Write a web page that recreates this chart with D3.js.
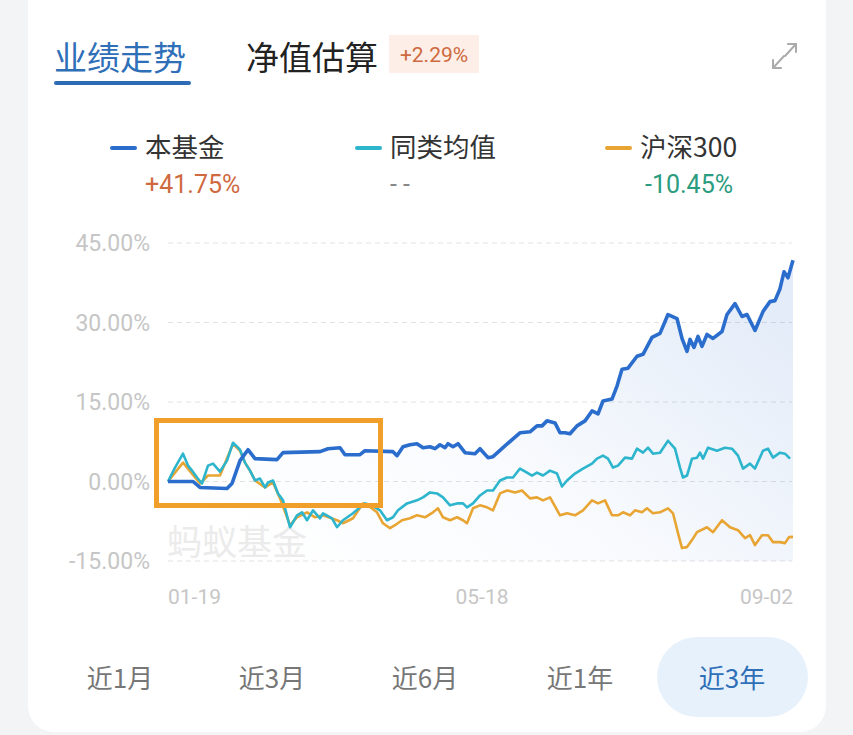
<!DOCTYPE html>
<html><head><meta charset="utf-8">
<script src="https://cdn.jsdelivr.net/npm/d3@7"></script>
<style>
html,body{margin:0;padding:0;background:#f3f4f6;}
svg{display:block;font-family:"Noto Sans CJK SC","Noto Sans",sans-serif;}
</style></head>
<body><svg id="c" width="853" height="735"></svg>
<script>
// ---- data ----
const xTickLabels = ["01-19", "05-18", "09-02"];
const xTickIdx = [0, 314, 625];
const yTicks = [-15, 0, 15, 30, 45];
const legendNames = ["本基金", "同类均值", "沪深300"];
const legendValues = ["+41.75%", "--", "-10.45%"];
const periodLabels = ["近1月", "近3月", "近6月", "近1年", "近3年"];
const estimateLabel = "+2.29%";
// [trading-day index, return %]
const fundSeries = [[0,0],[25,0],[32,-1.13],[59,-1.31],[64,-0.38],[72,3.94],[80,6.0],[87,4.31],[109,4.13],[115,5.44],[152,5.63],[160,6.19],[172,6.38],[177,5.06],[192,5.06],[197,5.81],[225,5.63],[229,4.88],[235,6.56],[242,6.94],[249,7.13],[255,6.38],[262,6.56],[267,6.19],[272,6.94],[277,6.38],[280,7.13],[285,6.56],[290,7.13],[297,5.44],[307,5.25],[312,6.19],[320,4.5],[325,4.69],[335,6.38],[345,8.06],[352,9.19],[362,9.38],[369,10.5],[374,10.5],[379,11.44],[387,11.06],[392,9.19],[397,9.19],[402,9.0],[409,10.5],[417,11.44],[424,13.31],[430,12.75],[435,15.19],[444,15.56],[449,18.0],[454,21.19],[460,21.38],[469,23.63],[475,24.0],[484,27.19],[492,27.94],[500,31.5],[509,30.75],[514,27.0],[519,24.56],[522,26.81],[526,25.31],[530,27.38],[534,25.5],[539,27.75],[545,27.0],[554,28.31],[559,31.5],[567,33.56],[574,31.13],[579,31.5],[587,28.5],[595,32.06],[602,33.94],[607,34.13],[612,36.38],[616,39.56],[620,38.44],[625,41.75]];
const peerSeries = [[0,0],[7,2.63],[15,5.25],[20,3.0],[24,2.06],[29,0.75],[34,-0.38],[40,3.0],[45,3.38],[52,1.88],[59,3.94],[65,7.31],[72,6.0],[77,3.56],[82,2.06],[87,0.19],[92,0.56],[97,-1.13],[100,-0.19],[105,0.19],[110,-2.25],[115,-3.56],[122,-8.63],[129,-6.38],[134,-5.81],[139,-7.31],[145,-5.44],[152,-6.94],[155,-6.0],[164,-6.94],[169,-8.63],[175,-7.31],[185,-6.0],[192,-4.88],[197,-4.13],[204,-4.5],[212,-5.44],[219,-7.31],[225,-6.75],[230,-5.44],[239,-4.13],[249,-3.56],[255,-3.0],[262,-2.06],[269,-2.25],[275,-3.0],[282,-4.5],[289,-4.13],[295,-4.13],[299,-4.88],[305,-4.13],[312,-2.63],[319,-1.69],[325,-1.69],[332,0.19],[339,0.75],[345,0.75],[352,2.44],[359,1.69],[364,1.13],[369,1.69],[375,1.13],[382,2.06],[389,1.5],[394,-0.94],[399,0.19],[407,1.5],[415,2.44],[424,3.38],[429,4.31],[435,4.88],[440,4.31],[445,2.63],[450,3.0],[457,4.5],[464,4.31],[469,6.19],[475,5.44],[480,6.38],[485,5.25],[492,5.44],[500,7.69],[507,6.19],[512,2.63],[515,0.75],[519,1.13],[524,4.31],[529,4.5],[532,5.44],[535,4.31],[540,6.38],[549,5.81],[557,6.38],[564,6.19],[570,4.88],[575,2.44],[582,3.38],[587,2.44],[595,5.81],[600,6.19],[605,4.5],[612,5.44],[617,5.25],[622,4.31]];
const indexSeries = [[0,0],[15,3.56],[24,1.5],[32,-0.38],[40,1.13],[52,1.13],[65,7.13],[72,5.81],[77,3.56],[82,2.06],[87,0.19],[97,-1.13],[105,-0.19],[112,-3.19],[122,-8.25],[129,-6.75],[139,-5.81],[147,-6.75],[155,-6.38],[169,-7.31],[175,-7.88],[185,-6.94],[195,-4.13],[200,-4.5],[209,-5.81],[215,-7.88],[222,-8.81],[227,-8.25],[234,-7.31],[242,-6.94],[249,-6.38],[257,-6.75],[265,-5.81],[270,-5.06],[275,-6.75],[282,-7.31],[289,-6.75],[295,-7.31],[299,-7.88],[305,-5.06],[312,-4.5],[319,-4.88],[325,-5.44],[332,-2.25],[339,-1.69],[347,-2.06],[354,-1.69],[362,-3.19],[369,-3.0],[375,-3.56],[382,-3.0],[392,-6.38],[399,-6.0],[407,-6.38],[415,-5.44],[424,-3.56],[430,-4.13],[437,-3.56],[444,-6.38],[450,-6.38],[455,-5.81],[462,-6.38],[467,-5.44],[474,-5.81],[479,-5.06],[485,-6.0],[492,-5.81],[500,-5.06],[505,-6.0],[510,-9.75],[514,-12.56],[519,-12.38],[524,-11.06],[529,-9.56],[539,-8.63],[545,-9.56],[554,-7.31],[562,-8.63],[570,-9.19],[577,-10.69],[582,-10.13],[587,-12.0],[594,-10.13],[600,-10.13],[605,-11.44],[612,-11.44],[617,-11.63],[621,-10.5],[625,-10.45]];

const colors = {fund:"#2b6dcc", peer:"#2cb5cc", idx:"#e8a534"};
const numFont = "Roboto";
const svg = d3.select("#c");

// card
svg.append("rect").attr("x",28).attr("y",-30).attr("width",798).attr("height",762).attr("rx",26).attr("fill","#fff");

// tabs
svg.append("text").attr("x",54).attr("y",70).attr("font-size",33).attr("fill","#2f6fb8").text("业绩走势");
svg.append("rect").attr("x",54).attr("y",81).attr("width",137).attr("height",4).attr("rx",2).attr("fill","#2e6bb5");
svg.append("text").attr("x",246).attr("y",70).attr("font-size",33).attr("fill","#222").text("净值估算");
svg.append("rect").attr("x",389).attr("y",35).attr("width",90).attr("height",38).attr("fill","#fdeee7");
svg.append("text").attr("x",434).attr("y",62).attr("text-anchor","middle").attr("font-size",21).attr("fill","#cf6a40").attr("font-family",numFont).text(estimateLabel);
// expand icon
const ic = svg.append("g").attr("stroke","#aaa").attr("stroke-width",2).attr("fill","none").attr("stroke-linecap","round");
ic.append("path").attr("d","M785,56 L796,44 M788,44 L796,44 L796,52");
ic.append("path").attr("d","M784,56 L773,68 M773,60 L773,68 L781,68");

// legend
const legX = [112, 357, 607];
const legC = [colors.fund, colors.peer, colors.idx];
const legValC = ["#cf6a40", "#888", "#2a9c80"];
legendNames.forEach((n,i)=>{
  svg.append("line").attr("x1",legX[i]).attr("x2",legX[i]+23).attr("y1",148).attr("y2",148).attr("stroke",legC[i]).attr("stroke-width",4).attr("stroke-linecap","round");
  svg.append("text").attr("x",legX[i]+33).attr("y",157).attr("font-size",26.5).attr("fill","#333").text(n);
  svg.append("text").attr("x",legX[i]+33 + (i==2?5:0)).attr("y",193).attr("font-size",25)
    .attr("letter-spacing", i==1?6:0).attr("fill",legValC[i]).attr("font-family",numFont).text(legendValues[i]);
});

// scales
const x = d3.scaleLinear().domain([0,625]).range([168,793]);
const y = d3.scaleLinear().domain([-15,45]).range([561,243]);

// grid
yTicks.forEach(t=>{
  svg.append("line").attr("x1",168).attr("x2",792).attr("y1",y(t)).attr("y2",y(t))
    .attr("stroke","#e2e2e2").attr("stroke-width",1).attr("stroke-dasharray","5,4");
  svg.append("text").attr("x",150).attr("y",y(t)+8).attr("text-anchor","end").attr("font-size",23)
    .attr("fill","#c6c6c6").attr("font-family",numFont).text(t.toFixed(2)+"%");
});
// x ticks
xTickLabels.forEach((l,i)=>{
  const anchor = i==0?"start":(i==2?"end":"middle");
  svg.append("text").attr("x",x(xTickIdx[i])).attr("y",604).attr("text-anchor",anchor).attr("font-size",21)
    .attr("fill","#c6c6c6").attr("font-family",numFont).text(l);
});

// area gradient
const defs = svg.append("defs");
const g = defs.append("linearGradient").attr("id","ag").attr("x1","0").attr("y1","0.8").attr("x2","1").attr("y2","0.2");
g.append("stop").attr("offset","0").attr("stop-color","#2b6dcc").attr("stop-opacity",0.0);
g.append("stop").attr("offset","0.45").attr("stop-color","#2b6dcc").attr("stop-opacity",0.03);
g.append("stop").attr("offset","1").attr("stop-color","#2b6dcc").attr("stop-opacity",0.13);
svg.append("path").datum(fundSeries).attr("fill","url(#ag)")
  .attr("d",d3.area().x(d=>x(d[0])).y0(y(-15)).y1(d=>y(d[1])));

// watermark
svg.append("text").attr("x",167).attr("y",555).attr("font-size",35).attr("fill","#ebebeb").text("蚂蚁基金");

const line = d3.line().x(d=>x(d[0])).y(d=>y(d[1]));
svg.append("path").datum(indexSeries).attr("d",line).attr("fill","none").attr("stroke",colors.idx).attr("stroke-width",2.6).attr("stroke-linejoin","round");
svg.append("path").datum(peerSeries).attr("d",line).attr("fill","none").attr("stroke",colors.peer).attr("stroke-width",2.6).attr("stroke-linejoin","round");
svg.append("path").datum(fundSeries).attr("d",line).attr("fill","none").attr("stroke",colors.fund).attr("stroke-width",3.6).attr("stroke-linejoin","round");

// highlight box
svg.append("rect").attr("x",156.5).attr("y",420.5).attr("width",224).attr("height",85).attr("fill","none").attr("stroke","#f0a02a").attr("stroke-width",5);

// period buttons
const bx = [120, 272, 425, 580, 732];
svg.append("rect").attr("x",657).attr("y",637).attr("width",151).attr("height",80).attr("rx",40).attr("fill","#e7f1fc");
periodLabels.forEach((p,i)=>{
  svg.append("text").attr("x",bx[i]).attr("y",688).attr("text-anchor","middle").attr("font-size",26)
    .attr("fill", i==4?"#2f6fb8":"#777").text(p);
});
</script></body></html>
